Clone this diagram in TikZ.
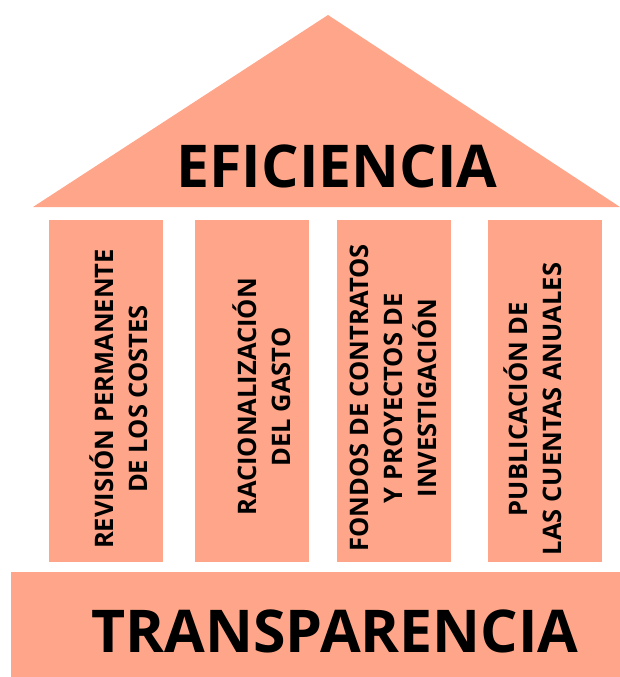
\documentclass[tikz,border=0pt]{standalone}
\usepackage{fontspec}
\setmainfont{Open Sans}[BoldFont={* Bold}]
\definecolor{salmon}{HTML}{FFA68A}
\begin{document}
\begin{tikzpicture}[x=1pt,y=-1pt,
    pillar/.style={fill=salmon,minimum width=114pt,minimum height=342pt,inner sep=0pt},
    pillartext/.style={rotate=90,inner sep=0pt,align=center,
        font=\bfseries\fontsize{25.5}{34}\selectfont},
    bigword/.style={anchor=base,inner sep=0pt,font=\bfseries\fontsize{59}{70}\selectfont}]
    \useasboundingbox (0,0) rectangle (620,677);

    % roof and base
    \fill[salmon] (33,207) -- (328,15) -- (620,207) -- cycle;
    \fill[salmon] (11,572) rectangle (620,677);
    \node (roof) at (337,187) [bigword]{EFICIENCIA};
    \node (base) at (335,652) [bigword]{TRANSPARENCIA};

    % the four pillars
    \foreach \x/\tx/\ty/\n/\t in {106/119/399/rev/{REVISIÓN PERMANENTE\\DE LOS COSTES},
                                  252/262/397/rac/{RACIONALIZACIÓN\\DEL GASTO},
                                  394/393/398/fon/{FONDOS DE CONTRATOS\\Y PROYECTOS DE\\INVESTIGACIÓN},
                                  545/533/409/pub/{PUBLICACIÓN DE\\LAS CUENTAS ANUALES}}
    {
        \node (\n) at (\x,391) [pillar]{};
        \node (\n-text) at (\tx,\ty) [pillartext]{\t};
    }
\end{tikzpicture}
\end{document}
